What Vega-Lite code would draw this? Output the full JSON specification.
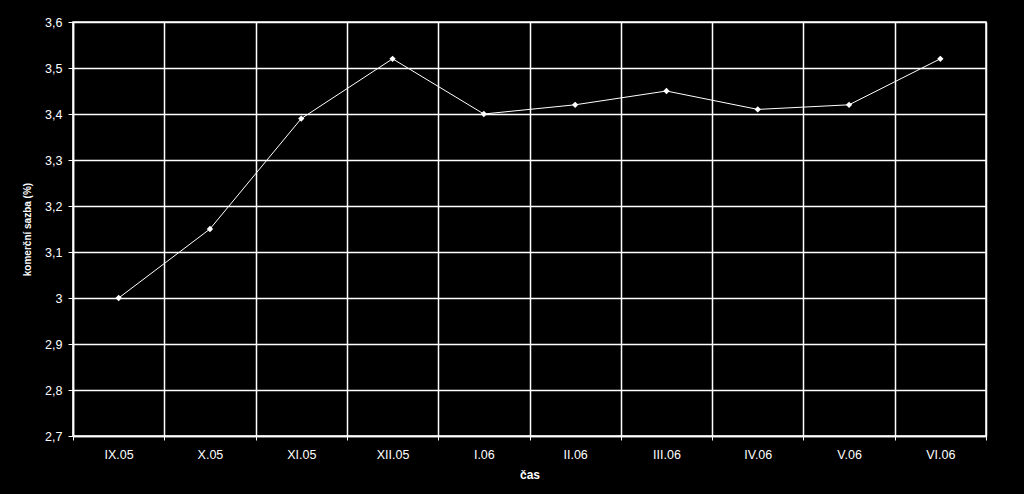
{
  "$schema": "https://vega.github.io/schema/vega-lite/v6.json",
  "width": 913,
  "height": 414,
  "autosize": {"type": "none"},
  "padding": {"left": 73, "top": 22, "right": 38, "bottom": 58},
  "background": "black",
  "config": {
    "view": {"stroke": "white", "strokeWidth": 1.5},
    "font": "Liberation Sans"
  },
  "data": {
    "values": [
      {"mesic": "IX.05", "sazba": 3.00},
      {"mesic": "X.05", "sazba": 3.15},
      {"mesic": "XI.05", "sazba": 3.39},
      {"mesic": "XII.05", "sazba": 3.52},
      {"mesic": "I.06", "sazba": 3.40},
      {"mesic": "II.06", "sazba": 3.42},
      {"mesic": "III.06", "sazba": 3.45},
      {"mesic": "IV.06", "sazba": 3.41},
      {"mesic": "V.06", "sazba": 3.42},
      {"mesic": "VI.06", "sazba": 3.52}
    ]
  },
  "encoding": {
    "x": {
      "field": "mesic",
      "type": "ordinal",
      "sort": null,
      "scale": {"type": "band", "paddingInner": 0, "paddingOuter": 0},
      "axis": {
        "title": "čas",
        "titleColor": "white",
        "titleFont": "Liberation Sans",
        "titleFontSize": 12,
        "titleFontWeight": "bold",
        "titlePadding": 9,
        "labelColor": "white",
        "labelFontSize": 12.5,
        "labelAngle": 0,
        "labelPadding": 8,
        "tickBand": "extent",
        "tickColor": "white",
        "tickSize": 4,
        "grid": true,
        "gridColor": "white",
        "gridWidth": 1.5,
        "gridOpacity": 1,
        "domainColor": "white",
        "domainWidth": 1.5
      }
    },
    "y": {
      "field": "sazba",
      "type": "quantitative",
      "scale": {"domain": [2.7, 3.6], "zero": false, "nice": false},
      "axis": {
        "title": "komerční sazba (%)",
        "titleColor": "white",
        "titleFont": "Liberation Sans",
        "titleFontSize": 10,
        "titleFontWeight": "bold",
        "titlePadding": 12,
        "values": [2.7, 2.8, 2.9, 3.0, 3.1, 3.2, 3.3, 3.4, 3.5, 3.6],
        "labelExpr": "replace(format(datum.value, '.1~f'), '.', ',')",
        "labelColor": "white",
        "labelFontSize": 12.5,
        "labelPadding": 6,
        "tickColor": "white",
        "tickSize": 5,
        "grid": true,
        "gridColor": "white",
        "gridWidth": 1.5,
        "gridOpacity": 1,
        "domainColor": "white",
        "domainWidth": 1.5
      }
    }
  },
  "layer": [
    {"mark": {"type": "line", "color": "white", "strokeWidth": 1}},
    {"mark": {"type": "point", "shape": "diamond", "filled": true, "color": "white", "opacity": 1, "size": 40}}
  ]
}
